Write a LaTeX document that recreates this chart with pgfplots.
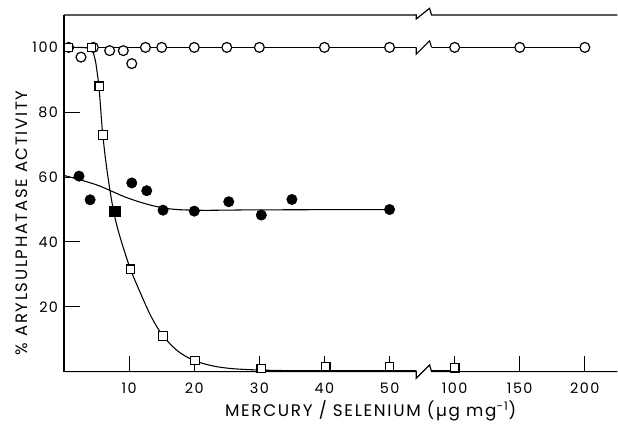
\documentclass[border=0pt]{standalone}
\usepackage{fontspec}
\setmainfont{Poppins}
\newfontfamily\lbl{Poppins}[LetterSpace=10]
\usepackage{pgfplots}
\pgfplotsset{compat=1.18}
\begin{document}
\begin{tikzpicture}
\begin{axis}[
  scale only axis, width=415.4pt, height=267.75pt,
  x coord trafo/.code={\pgfmathparse{ifthenelse(#1>75,60+(#1-100)/5,#1)}},
  xmin=0, xmax=225, ymin=0, ymax=110,
  xtick={10,20,30,40,50,100,150,200},
  xticklabels={10,20,30,40,50,100,150,200},
  ytick={20,40,60,80,100},
  tick align=inside, major tick length=12pt,
  tick pos=left,
  axis line style={draw=none},
  tick style={black, line width=0.8pt},
  clip=false,
  /pgf/number format/assume math mode=true,
  ticklabel style={font=\lbl\fontsize{10.8}{12}\selectfont},
  xticklabel style={yshift=-5pt},
  yticklabel style={xshift=-1pt},
  xlabel={\lbl\fontsize{12.6}{14}\selectfont MERCURY / SELENIUM (µg mg\textsuperscript{-1})},
  ylabel={\lbl\fontsize{12.4}{14}\selectfont \% ARYLSULPHATASE ACTIVITY},
  xlabel style={at={(axis description cs:0.554,-0.109)}, anchor=center},
  ylabel style={at={(axis description cs:-0.0758,0.417)}, anchor=center},
]
% frame
\draw[line width=0.9pt] (axis cs:0,0) -- (axis cs:0,110);
\draw[line width=0.9pt] (axis cs:0,110) -- (axis cs:54.1,110) -- ++(0,-3pt) -- ++(10pt,8pt) -- ++(1.5pt,-5pt) -- (axis cs:225,110);
\draw[line width=0.9pt] (axis cs:0,0) -- (axis cs:54.1,0) -- ++(0,-5pt) -- ++(10pt,10pt) -- ++(1.5pt,-5pt) -- (axis cs:225,0);

% open circle line
\addplot[black, line width=0.8pt] coordinates {(0.7,100) (200,100)};
\draw[white, line width=3pt] (axis cs:54.1,100) -- ++(11.5pt,0);
\draw[black, line width=0.8pt] (axis cs:54.1,100) -- ++(0,-5pt) -- ++(10pt,10pt) -- ++(1.5pt,-5pt);

% open square curve
\addplot[black, line width=0.8pt, smooth, tension=0.5] coordinates {
(0.64,100) (2.5,100) (3.6,99.8) (4.3,99.2) (4.8,96) (5.1,92) (5.4,87) (5.9,74)
(6.6,62) (7.6,49.5) (8.6,41.5) (10.2,31.6) (12,23) (13.5,16.5) (15.2,11)
(17.5,6.3) (20,3.4) (23,1.7) (26,0.9) (30,0.5) (35,0.3) (40,0.3) (50,0.3) (54.1,0.3)};
\addplot[black, line width=0.8pt] coordinates {(56.5,0.3) (100,0.3)};

% filled circle curve
\addplot[black, line width=0.8pt, smooth, tension=0.6] coordinates {
(0,60.5) (5,57.6) (10,53.4) (15,50.6) (20,49.8) (30,49.9) (50,50)};

% open circles
\addplot[only marks, mark=*, mark size=3.7pt, mark options={fill=white, draw=black, line width=0.9pt}] coordinates {
(0.7,100) (2.6,97) (4.5,100) (7,99) (9.1,99) (10.4,95) (12.5,100) (15,100) (20,100)
(25,100) (30,100) (40,100) (50,100) (100,100) (150,100) (200,100)};

% open squares
\addplot[only marks, mark=square*, mark size=3.2pt, mark options={fill=white, draw=black, line width=0.9pt}] coordinates {
(0.64,100) (4.2,100) (5.4,88) (6,73) (10.2,31.6) (15.2,11) (20.1,3.4) (30.3,1) (40.2,1.5) (50,1.5) (100,1.2)};

% filled square
\addplot[only marks, mark=square*, mark size=4pt, mark options={fill=black, draw=black}] coordinates {(7.8,49.5)};

% filled circles
\addplot[only marks, mark=*, mark size=3.9pt, mark options={fill=black, draw=black}] coordinates {
(2.3,60.3) (4,53) (10.4,58.2) (12.7,55.8) (15.2,49.8) (20,49.5) (25.3,52.4) (30.3,48.3) (35,53.1) (50,50)};

% bounding box
\path (axis cs:0,0) ++(-48.1pt,-36pt) rectangle ++(463.5pt,315pt);
\end{axis}
\end{tikzpicture}
\end{document}
